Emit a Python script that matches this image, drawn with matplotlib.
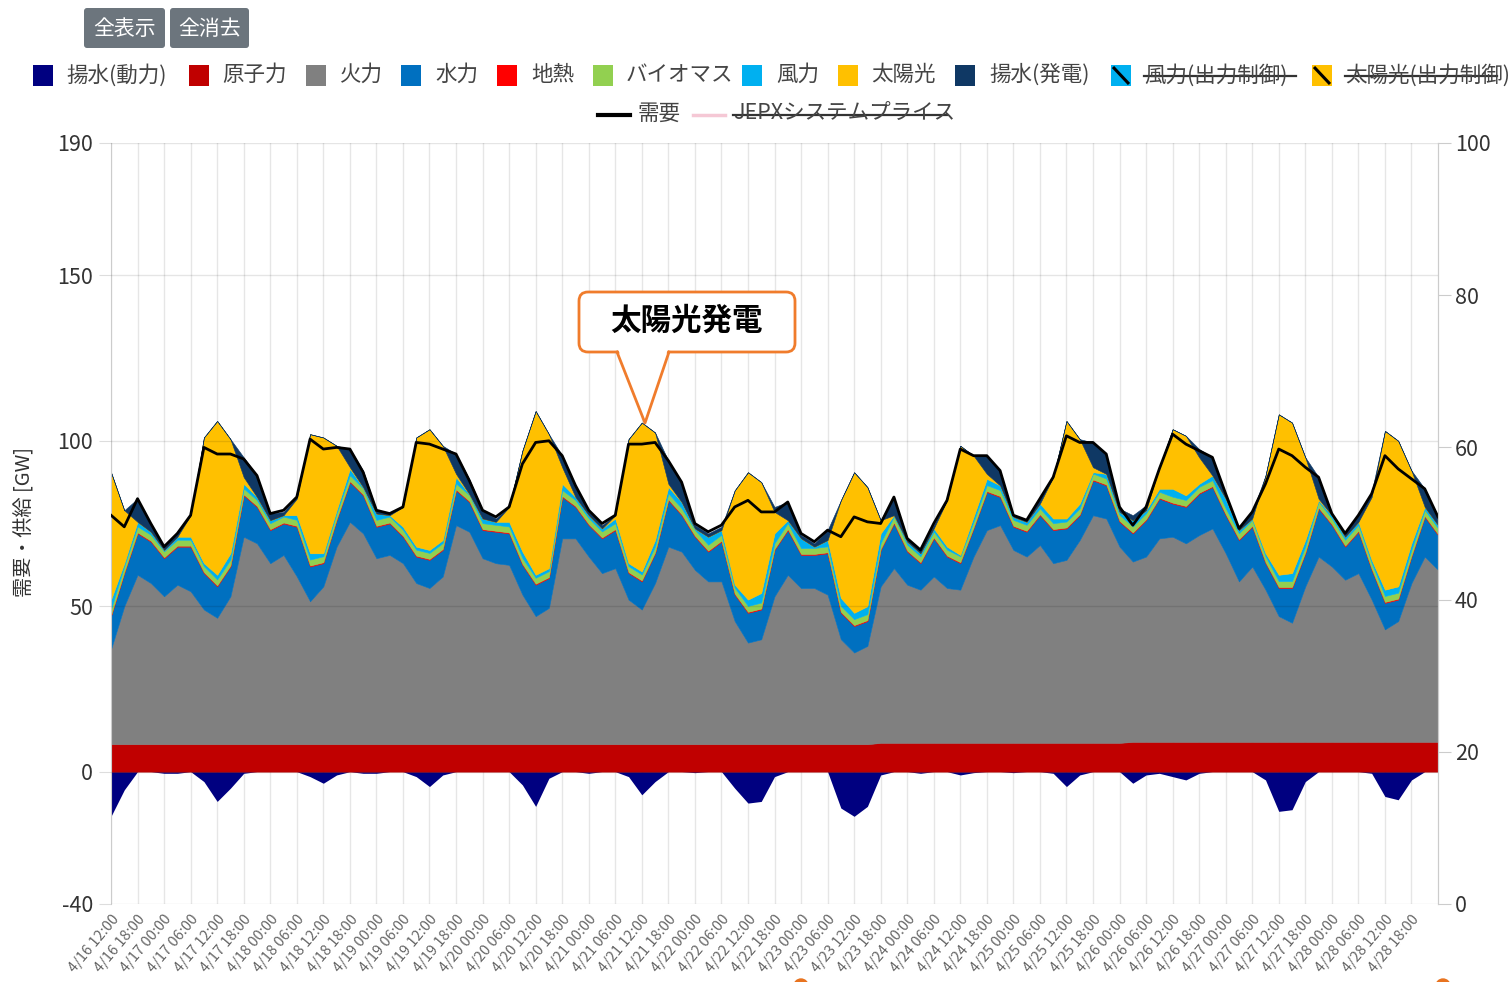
import numpy as np
import matplotlib
matplotlib.use('Agg')
import matplotlib.pyplot as plt
from matplotlib.patches import FancyBboxPatch, Rectangle, Polygon, Circle

plt.rcParams['font.family'] = ['Noto Sans CJK JP', 'DejaVu Sans']
plt.rcParams['axes.unicode_minus'] = False

# ---------------- data (GW), every 3 hours from 4/16 12:00 ----------------
hours = list(range(0, 301, 3))

nuclear = [8.3, 8.3, 8.3, 8.3, 8.3, 8.3, 8.3, 8.3, 8.3, 8.3,
           8.3, 8.3, 8.3, 8.3, 8.3, 8.3, 8.3, 8.3, 8.3, 8.3,
           8.3, 8.3, 8.3, 8.3, 8.3, 8.3, 8.3, 8.3, 8.3, 8.3,
           8.3, 8.3, 8.3, 8.3, 8.3, 8.3, 8.3, 8.3, 8.3, 8.3,
           8.3, 8.3, 8.3, 8.3, 8.3, 8.3, 8.3, 8.3, 8.3, 8.3,
           8.3, 8.3, 8.3, 8.3, 8.3, 8.3, 8.3, 8.3, 8.7, 8.7,
           8.7, 8.7, 8.7, 8.7, 8.7, 8.7, 8.7, 8.7, 8.7, 8.7,
           8.7, 8.7, 8.7, 8.7, 8.7, 8.7, 8.7, 9.0, 9.0, 9.0,
           9.0, 9.0, 9.0, 9.0, 9.0, 9.0, 9.0, 9.0, 9.0, 9.0,
           9.0, 9.0, 9.0, 9.0, 9.0, 9.0, 9.0, 9.0, 9.0, 9.0, 9.0]

thermal = [28.7, 41.7, 51.2, 48.7, 44.7, 48.2, 46.2, 40.7, 38.2, 44.7,
           62.7, 60.7, 54.7, 57.2, 50.7, 43.2, 47.7, 59.7, 67.2, 63.7,
           56.2, 57.2, 54.7, 48.7, 47.2, 50.7, 66.2, 64.2, 56.2, 54.7,
           54.2, 45.2, 38.7, 41.2, 62.2, 62.2, 56.7, 51.7, 53.2, 43.7,
           40.7, 48.7, 59.7, 58.2, 52.7, 49.2, 49.2, 37.2, 30.7, 31.7,
           44.7, 51.2, 47.2, 47.2, 45.2, 31.7, 27.7, 29.7, 47.3, 52.8,
           47.8, 46.3, 50.3, 46.8, 46.3, 56.3, 64.3, 65.8, 58.3, 56.3,
           59.8, 54.3, 55.3, 61.3, 68.8, 67.8, 59.3, 54.5, 56.0, 61.5,
           62.0, 60.0, 62.5, 64.5, 57.0, 48.5, 53.0, 46.0, 38.0, 36.0,
           47.0, 56.0, 53.0, 49.0, 51.0, 43.0, 34.0, 36.5, 48.0, 56.0, 52.0]

hydro = [10.0, 10.0, 12.5, 12.5, 11.5, 11.5, 13.5, 11.0, 9.5, 9.0,
         12.5, 11.0, 10.0, 9.5, 15.0, 10.5, 7.0, 8.0, 12.0, 11.5,
         9.5, 9.5, 8.0, 8.0, 8.5, 8.0, 10.5, 9.0, 8.5, 9.5,
         9.5, 9.0, 9.5, 9.0, 12.5, 9.5, 9.5, 10.5, 11.5, 8.0,
         8.5, 9.0, 14.0, 11.0, 10.0, 9.0, 12.0, 8.0, 9.0, 9.0,
         14.0, 13.5, 10.0, 10.0, 12.5, 8.0, 8.0, 7.5, 11.0, 13.5,
         10.0, 8.0, 11.5, 9.5, 8.0, 8.5, 11.5, 8.5, 7.0, 7.5,
         9.0, 10.0, 9.5, 7.5, 10.5, 10.0, 7.5, 8.5, 11.0, 12.0,
         10.0, 11.0, 12.5, 12.5, 11.5, 12.5, 12.0, 8.0, 8.5, 10.5,
         10.0, 14.5, 12.5, 10.0, 12.5, 9.0, 8.0, 6.5, 8.0, 12.0, 10.5]

geothermal = [0.3, 0.3, 0.3, 0.3, 0.3, 0.3, 0.3, 0.3, 0.3, 0.3,
              0.3, 0.3, 0.3, 0.3, 0.3, 0.3, 0.3, 0.3, 0.3, 0.3,
              0.3, 0.3, 0.3, 0.3, 0.3, 0.3, 0.3, 0.3, 0.3, 0.3,
              0.3, 0.3, 0.3, 0.3, 0.3, 0.3, 0.3, 0.3, 0.3, 0.3,
              0.3, 0.3, 0.3, 0.3, 0.3, 0.3, 0.3, 0.3, 0.3, 0.3,
              0.3, 0.3, 0.3, 0.3, 0.3, 0.3, 0.3, 0.3, 0.3, 0.3,
              0.3, 0.3, 0.3, 0.3, 0.3, 0.3, 0.3, 0.3, 0.3, 0.3,
              0.3, 0.3, 0.3, 0.3, 0.3, 0.3, 0.3, 0.3, 0.3, 0.3,
              0.3, 0.3, 0.3, 0.3, 0.3, 0.3, 0.3, 0.3, 0.3, 0.3,
              0.3, 0.3, 0.3, 0.3, 0.3, 0.3, 0.3, 0.3, 0.3, 0.3, 0.3]

biomass = [1.8, 1.8, 1.8, 1.8, 1.8, 1.8, 1.8, 1.8, 1.8, 1.8,
           1.8, 1.8, 1.8, 1.8, 1.8, 1.8, 1.8, 1.8, 1.8, 1.8,
           1.8, 1.8, 1.8, 1.8, 1.8, 1.8, 1.8, 1.8, 1.8, 1.8,
           1.8, 1.8, 1.8, 1.8, 1.8, 1.8, 1.8, 1.8, 1.8, 1.8,
           1.8, 1.8, 1.8, 1.8, 1.8, 1.8, 1.8, 1.8, 1.8, 1.8,
           1.8, 1.8, 1.8, 1.8, 1.8, 1.8, 1.8, 1.8, 1.8, 1.8,
           1.8, 1.8, 1.8, 1.8, 1.8, 1.8, 1.8, 1.8, 1.8, 1.8,
           1.8, 1.8, 1.8, 1.8, 1.8, 1.8, 1.8, 1.8, 1.8, 1.8,
           1.8, 1.8, 1.8, 1.8, 1.8, 1.8, 1.8, 1.8, 1.8, 1.8,
           1.8, 1.8, 1.8, 1.8, 1.8, 1.8, 1.8, 1.8, 1.8, 1.8, 1.8]

wind = [2.9, 0.9, 1.4, 0.9, 0.4, 0.9, 0.9, 0.9, 1.4, 1.9,
        1.4, 0.9, 0.9, 0.4, 1.4, 1.9, 0.9, 0.9, 1.9, 0.4,
        1.9, 0.4, 0.9, 0.9, 0.9, 0.9, 1.9, 0.3, 1.4, 0.9,
        1.4, 1.9, 0.9, 0.9, 1.9, 0.9, 0.9, 0.9, 1.4, 0.9,
        0.9, 1.9, 1.9, 1.9, 0.4, 2.4, 1.4, 0.9, 1.9, 2.9,
        2.9, 0.9, 2.9, 0.4, 1.9, 2.4, 1.9, 2.4, 2.9, 0.4,
        0.9, 0.9, 0.9, 0.9, 0.4, 1.4, 1.9, 1.4, 0.9, 0.9,
        1.4, 1.4, 0.9, 1.4, 0.4, 1.4, 0.9, 1.9, 0.9, 0.9,
        2.4, 1.4, 0.9, 1.4, 2.9, 0.9, 0.4, 0.9, 1.9, 2.4,
        1.9, 0.4, 0.9, 0.9, 0.9, 0.9, 1.9, 1.9, 1.9, 0.9, 0.9]

solar = [38.5, 16.0, 0.0, 0.0, 0.0, 0.0, 6.5, 38.0, 46.5, 34.5,
         2.0, 0.0, 0.0, 0.0, 5.0, 36.0, 35.0, 19.5, 0.5, 0.0,
         0.0, 0.0, 6.0, 33.0, 36.5, 28.5, 1.0, 0.0, 0.0, 0.0,
         4.5, 30.5, 49.5, 40.5, 5.0, 0.0, 0.0, 0.0, 1.0, 37.5,
         45.0, 32.5, 1.0, 0.0, 0.0, 0.0, 0.0, 28.5, 38.5, 33.5,
         6.5, 0.0, 0.0, 0.0, 0.0, 29.5, 42.5, 36.0, 4.0, 0.0,
         0.0, 0.0, 0.0, 14.0, 33.0, 18.5, 1.5, 0.0, 0.0, 0.0,
         0.0, 12.5, 29.5, 19.5, 1.5, 0.0, 0.0, 0.0, 0.0, 6.5,
         18.0, 18.0, 8.0, 0.0, 0.0, 0.0, 0.0, 23.5, 48.5, 45.5,
         25.0, 0.5, 0.0, 0.0, 0.0, 19.0, 48.0, 44.0, 22.0, 0.0, 0.0]

pumped_gen = [0.0, 0.0, 7.0, 2.5, 1.0, 1.0, 0.0, 0.0, 0.0, 0.0,
              6.0, 6.5, 2.0, 1.0, 0.5, 0.0, 0.0, 0.0, 5.5, 5.0,
              1.0, 0.5, 0.0, 0.0, 0.0, 0.0, 6.0, 4.5, 2.5, 1.0,
              0.0, 0.0, 0.0, 0.0, 3.5, 3.5, 1.0, 1.0, 0.0, 0.0,
              0.0, 0.0, 7.0, 6.0, 1.0, 1.0, 1.0, 0.0, 0.0, 0.0,
              1.5, 5.5, 1.0, 1.0, 3.0, 0.0, 0.0, 0.0, 0.0, 5.5,
              1.0, 1.0, 1.0, 0.0, 0.0, 0.0, 5.5, 4.5, 0.5, 0.5,
              1.5, 0.0, 0.0, 0.0, 7.5, 6.0, 1.0, 1.5, 1.5, 0.0,
              0.0, 0.0, 2.5, 5.5, 1.5, 0.5, 2.0, 0.0, 0.0, 0.0,
              0.0, 6.5, 0.5, 1.0, 2.0, 1.5, 0.0, 0.0, 0.0, 5.5, 2.5]

pumped_use = [-13.5, -5.5, 0.0, 0.0, -0.5, -0.5, 0.0, -3.0, -9.0, -5.0,
              -0.5, 0.0, 0.0, 0.0, 0.0, -1.5, -3.5, -1.0, 0.0, -0.5,
              -0.5, 0.0, 0.0, -1.5, -4.5, -1.0, 0.0, 0.0, 0.0, 0.0,
              0.0, -4.0, -10.5, -2.0, 0.0, 0.0, -0.5, 0.0, 0.0, -1.5,
              -7.0, -3.0, 0.0, 0.0, -0.3, 0.0, 0.0, -5.0, -9.5, -9.0,
              -1.5, 0.0, 0.0, 0.0, 0.0, -11.0, -13.5, -10.5, -1.0, 0.0,
              0.0, -0.5, 0.0, 0.0, -1.0, -0.3, 0.0, 0.0, -0.3, 0.0,
              0.0, -0.5, -4.5, -1.0, 0.0, 0.0, 0.0, -3.5, -1.0, -0.5,
              -1.5, -2.5, -0.5, 0.0, 0.0, 0.0, 0.0, -2.5, -12.0, -11.5,
              -3.0, 0.0, 0.0, 0.0, 0.0, -0.5, -7.5, -8.5, -2.5, 0.0, 0.0]

demand = [77.5, 74.0, 82.5, 75.0, 68.0, 72.0, 77.5, 98.0, 96.0, 96.0,
          94.5, 89.5, 78.0, 79.0, 83.0, 100.5, 97.5, 98.0, 97.5, 90.5,
          79.0, 78.0, 80.0, 99.5, 99.0, 97.5, 96.0, 88.0, 79.0, 77.0,
          80.0, 93.0, 99.5, 100.0, 95.5, 86.5, 79.0, 75.0, 77.5, 99.0,
          99.0, 99.5, 94.0, 87.5, 75.0, 72.5, 74.5, 80.0, 82.0, 78.5,
          78.5, 81.5, 72.0, 69.5, 73.0, 71.0, 77.0, 75.5, 75.0, 83.0,
          70.5, 67.0, 75.0, 82.0, 97.5, 95.5, 95.5, 91.0, 77.5, 76.0,
          82.5, 89.0, 101.5, 99.5, 99.5, 96.0, 80.0, 74.5, 80.0, 91.5,
          102.0, 99.0, 97.0, 95.0, 84.0, 73.5, 78.5, 87.0, 97.5, 95.5,
          92.0, 89.0, 78.0, 72.0, 77.5, 84.0, 95.5, 91.5, 88.5, 85.5, 77.0]

tick_hours = list(range(0, 295, 6))
tick_labels = [
    "4/16 12:00", "4/16 18:00",
    "4/17 00:00", "4/17 06:00", "4/17 12:00", "4/17 18:00",
    "4/18 00:00", "4/18 06:00", "4/18 12:00", "4/18 18:00",
    "4/19 00:00", "4/19 06:00", "4/19 12:00", "4/19 18:00",
    "4/20 00:00", "4/20 06:00", "4/20 12:00", "4/20 18:00",
    "4/21 00:00", "4/21 06:00", "4/21 12:00", "4/21 18:00",
    "4/22 00:00", "4/22 06:00", "4/22 12:00", "4/22 18:00",
    "4/23 00:00", "4/23 06:00", "4/23 12:00", "4/23 18:00",
    "4/24 00:00", "4/24 06:00", "4/24 12:00", "4/24 18:00",
    "4/25 00:00", "4/25 06:00", "4/25 12:00", "4/25 18:00",
    "4/26 00:00", "4/26 06:00", "4/26 12:00", "4/26 18:00",
    "4/27 00:00", "4/27 06:00", "4/27 12:00", "4/27 18:00",
    "4/28 00:00", "4/28 06:00", "4/28 12:00", "4/28 18:00"]

left_ticks = [-40, 0, 50, 100, 150, 190]
right_ticks = [0, 20, 40, 60, 80, 100]

legend_names = ["揚水(動力)", "原子力", "火力", "水力", "地熱", "バイオマス", "風力",
                "太陽光", "揚水(発電)", "風力(出力制御)", "太陽光(出力制御)"]
colors = {"揚水(動力)": "#000080", "原子力": "#c00000", "火力": "#808080",
          "水力": "#0070c0", "地熱": "#ff0000", "バイオマス": "#92d050",
          "風力": "#00b0f0", "太陽光": "#ffc000", "揚水(発電)": "#0f3864",
          "風力(出力制御)": "#00b0f0", "太陽光(出力制御)": "#ffc000"}

# ---------------- figure ----------------
W, H = 1509, 982
fig = plt.figure(figsize=(W / 100, H / 100), dpi=100)
ax = fig.add_axes([111 / W, 1 - 904 / H, (1438 - 111) / W, (904 - 143) / H])

x = np.array(hours)
ax.fill_between(x, pumped_use, 0, color=colors["揚水(動力)"], lw=0, zorder=2)
stack_cols = [colors[k] for k in ["原子力", "火力", "水力", "地熱", "バイオマス", "風力", "太陽光", "揚水(発電)"]]
polys = ax.stackplot(x, nuclear, thermal, hydro, geothermal, biomass, wind, solar, pumped_gen,
                     colors=stack_cols, zorder=2)
for p, c in zip(polys, stack_cols):
    p.set_edgecolor(c)
    p.set_linewidth(0.4)
ax.plot(x, demand, color='black', lw=2.0, zorder=4, solid_joinstyle='round')

ax.set_xlim(0, 300)
ax.set_ylim(-40, 190)
ax.set_yticks(left_ticks)
ax.set_xticks(tick_hours)
ax.set_xticklabels(tick_labels, rotation=50, ha='right', va='top', rotation_mode='anchor',
                   fontsize=10.5, color='#666666')
ax.tick_params(axis='y', labelsize=15.5, labelcolor='#333333', length=9, color='#dddddd', pad=4)
ax.tick_params(axis='x', length=0, pad=6)
ax.grid(True, axis='x', color='#e6e6e6', lw=1)
ax.set_axisbelow(True)
for yv in left_ticks:
    ax.axhline(yv, color='#000000', alpha=0.10, lw=1, zorder=3)
for s in ['top', 'bottom']:
    ax.spines[s].set_visible(False)
ax.spines['left'].set_color('#cccccc')
ax.spines['right'].set_color('#cccccc')

ax2 = ax.twinx()
ax2.set_ylim(0, 100)
ax2.set_yticks(right_ticks)
ax2.tick_params(axis='y', labelsize=15.5, labelcolor='#333333', length=9, color='#cccccc', pad=3)
for s in ['top', 'bottom', 'left']:
    ax2.spines[s].set_visible(False)
ax2.spines['right'].set_color('#cccccc')

fig.text(25 / W, 1 - 522 / H, "需要・供給 [GW]", rotation=90, ha='center', va='center',
         fontsize=14.5, color='#333333')

# ---------------- overlay (pixel coordinates) ----------------
ov = fig.add_axes([0, 0, 1, 1], zorder=10)
ov.set_xlim(0, W)
ov.set_ylim(H, 0)
ov.axis('off')
ov.patch.set_alpha(0)

for bx, bw, lab in [(84, 81, "全表示"), (170, 79, "全消去")]:
    ov.add_patch(FancyBboxPatch((bx, 8), bw, 40, boxstyle='round,pad=0,rounding_size=3',
                                fc='#6c757d', ec='none'))
    ov.text(bx + bw / 2, 29, lab, color='white', fontsize=15, ha='center', va='center')

sq_x = [33, 189, 306, 401, 497, 593, 742, 838, 955, 1111, 1312]
tx_x = [66, 222, 340, 435, 531, 626, 776, 871, 989, 1144, 1345]
for name, sx, tx in zip(legend_names, sq_x, tx_x):
    ov.add_patch(Rectangle((sx, 65), 20, 21, fc=colors[name], ec='none'))
    if "出力制御" in name:
        ov.plot([sx + 2, sx + 18], [67, 84], color='black', lw=2.2, solid_capstyle='butt')
    ov.text(tx, 75, name, fontsize=15.5, color='#444444', ha='left', va='center')
    if "出力制御" in name:
        ov.plot([tx, min(tx + 152, W)], [76, 76], color='#333333', lw=1.6)

ov.plot([598, 630], [115, 115], color='black', lw=3)
ov.text(638, 114, "需要", fontsize=15.5, color='#444444', ha='left', va='center')
ov.plot([693, 725], [115, 115], color='#f5c8d5', lw=2.5)
ov.text(733, 114, "JEPXシステムプライス", fontsize=15.5, color='#444444', ha='left', va='center')
ov.plot([733, 947], [115, 115], color='#333333', lw=1.6)

orange = '#f07c2c'
ov.add_patch(FancyBboxPatch((579, 292), 216, 60, boxstyle='round,pad=0,rounding_size=9',
                            fc='white', ec=orange, lw=2, zorder=2))
ov.add_patch(Polygon([(618, 349), (645, 422), (668, 349)], closed=True, fc='white', ec='none', zorder=3))
ov.plot([617, 645, 669], [352, 423, 352], color=orange, lw=2, zorder=4)
ov.text(687, 321, "太陽光発電", fontsize=22, fontweight='bold', color='black',
        ha='center', va='center', zorder=5)

ov.add_patch(Circle((801, 986), 7, color='#e8731f'))
ov.add_patch(Circle((1443, 986), 7, color='#e8731f'))

fig.savefig('out.png', dpi=100)
